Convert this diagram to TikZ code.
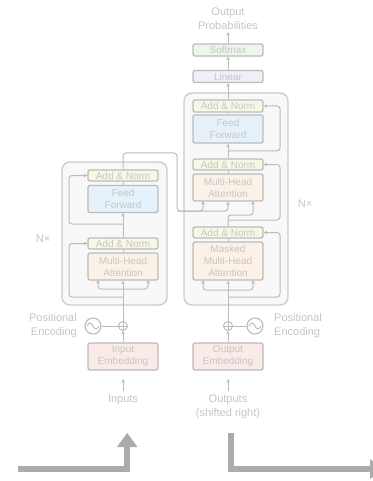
\documentclass[tikz,border=0pt]{standalone}
\usepackage{fontspec}
\setmainfont{Liberation Sans}
\usepackage{xcolor}
\usetikzlibrary{arrows.meta}
\usetikzlibrary{backgrounds}
\pgfdeclarelayer{edgelayer}
\pgfdeclarelayer{nodelayer}
\pgfsetlayers{background,edgelayer,nodelayer,main}
\definecolor{lncol}{HTML}{BBBBBB}
\definecolor{txtcol}{HTML}{C6C6C6}
\definecolor{stackln}{HTML}{CBCBCB}
\definecolor{stackfill}{HTML}{F8F8F8}
\definecolor{bigcol}{HTML}{ABABAB}
\tikzstyle{none}=[inner sep=0mm]
\tikzstyle{blk}=[draw=lncol,line width=1.3pt,rounded corners=2pt,minimum width=70pt,inner sep=0pt,text=txtcol,font=\fontsize{10}{12}\selectfont,align=center]
\tikzstyle{an}=[blk,minimum height=11pt]
\tikzstyle{ff}=[blk,minimum height=27pt]
\tikzstyle{mha}=[blk,minimum height=27pt]
\tikzstyle{emb}=[blk,minimum height=27pt]
\tikzstyle{lin}=[blk,minimum height=12pt]
\tikzstyle{sm}=[blk,minimum height=12pt]
\tikzstyle{lbl}=[inner sep=0pt,text=txtcol,font=\fontsize{11}{13.5}\selectfont,align=center]
\tikzstyle{plus}=[circle,draw=lncol,line width=0.9pt,minimum size=9pt,inner sep=0pt,fill=white,
  path picture={\draw[lncol,line width=0.7pt] (path picture bounding box.north) -- (path picture bounding box.south) (path picture bounding box.west) -- (path picture bounding box.east);}]
\tikzstyle{wave}=[circle,draw=lncol,line width=1.1pt,minimum size=16pt,inner sep=0pt,fill=white,
  path picture={\draw[lncol,line width=1pt,shift={(path picture bounding box.center)}] (-6pt,0pt) sin (-3pt,3pt) cos (0pt,0pt) sin (3pt,-3pt) cos (6pt,0pt);}]
\tikzstyle{stack}=[draw=stackln,fill=stackfill,line width=1.3pt,rounded corners=8pt]
\tikzstyle{diredge}=[draw=lncol,line width=1pt,rounded corners=3pt,-{Stealth[length=3.5pt,width=3.5pt]}]
\tikzstyle{undiredge}=[draw=lncol,line width=1pt,rounded corners=3pt]
\tikzstyle{bigarrow}=[draw=bigcol,line width=6pt,line join=miter]
\tikzset{
	an/.append style={fill={rgb,255:red,247;green,248;blue,228}},
	ff/.append style={fill={rgb,255:red,230;green,242;blue,251}},
	mha/.append style={fill={rgb,255:red,252;green,241;blue,230}},
	emb/.append style={fill={rgb,255:red,250;green,235;blue,233}},
	lin/.append style={fill={rgb,255:red,239;green,239;blue,248}},
	sm/.append style={fill={rgb,255:red,237;green,246;blue,234}}
}
\begin{document}
\begin{tikzpicture}[x=1pt,y=-1pt]
	\useasboundingbox (0,0) rectangle (372,481);
	\begin{pgfonlayer}{background}
		\fill[white] (0,0) rectangle (372,481);
		\draw[stack] (62,162) rectangle (167,305);
		\draw[stack] (184,93) rectangle (288,305);
	\end{pgfonlayer}
	\begin{pgfonlayer}{nodelayer}
		\node [style=lbl] (0) at (123,400) {Inputs};
		\node [style=emb] (1) at (123,356.5) {Input\\Embedding};
		\node [style=plus] (2) at (123,326) {};
		\node [style=wave] (3) at (93,326) {};
		\node [style=lbl, anchor=east, align=right] (4) at (77,325.5) {Positional\\Encoding};
		\node [style=mha] (5) at (123,266.5) {Multi-Head\\Attention};
		\node [style=an] (6) at (123,243.5) {Add \& Norm};
		\node [style=ff] (7) at (123,199) {Feed\\Forward};
		\node [style=an] (8) at (123,175.5) {Add \& Norm};
		\node [style=lbl] (9) at (43,239) {N×};
		\node [style=lbl] (10) at (228,407) {Outputs\\(shifted right)};
		\node [style=emb] (11) at (228,356.5) {Output\\Embedding};
		\node [style=plus] (12) at (228,326) {};
		\node [style=wave] (13) at (255,326) {};
		\node [style=lbl, anchor=west, align=left] (14) at (274,325.5) {Positional\\Encoding};
		\node [style=mha, minimum height=38pt] (15) at (228,261) {Masked\\Multi-Head\\Attention};
		\node [style=an] (16) at (228,232.5) {Add \& Norm};
		\node [style=mha] (17) at (228,187.5) {Multi-Head\\Attention};
		\node [style=an] (18) at (228,164.5) {Add \& Norm};
		\node [style=ff, minimum height=28pt] (19) at (228,129) {Feed\\Forward};
		\node [style=an, minimum height=12pt] (20) at (228,106) {Add \& Norm};
		\node [style=lin] (21) at (228,76.5) {Linear};
		\node [style=sm] (22) at (228,50) {Softmax};
		\node [style=lbl] (23) at (228,18.5) {Output\\Probabilities};
		\node [style=lbl] (24) at (305,204) {N×};
		\node [style=none] (30) at (123,391) {};
		\node [style=none] (31) at (123,379) {};
		\node [style=none] (32) at (98,289) {};
		\node [style=none] (33) at (148,289) {};
		\node [style=none] (34) at (123,289) {};
		\node [style=none] (35) at (98,280) {};
		\node [style=none] (36) at (148,280) {};
		\node [style=none] (37) at (123,297) {};
		\node [style=none] (38) at (69,297) {};
		\node [style=none] (39) at (69,243.5) {};
		\node [style=none] (40) at (123,224) {};
		\node [style=none] (41) at (69,224) {};
		\node [style=none] (42) at (69,175.5) {};
		\node [style=none] (43) at (123,153) {};
		\node [style=none] (44) at (177,153) {};
		\node [style=none] (45) at (177,211) {};
		\node [style=none] (46) at (228,211) {};
		\node [style=none] (47) at (203,211) {};
		\node [style=none] (48) at (203,201) {};
		\node [style=none] (50) at (228,290) {};
		\node [style=none] (51) at (203,290) {};
		\node [style=none] (52) at (253,290) {};
		\node [style=none] (53) at (203,280) {};
		\node [style=none] (54) at (253,280) {};
		\node [style=none] (55) at (228,297) {};
		\node [style=none] (56) at (280,297) {};
		\node [style=none] (57) at (280,232.5) {};
		\node [style=none] (58) at (228,215) {};
		\node [style=none] (59) at (253,215) {};
		\node [style=none] (60) at (253,201) {};
		\node [style=none] (61) at (228,220) {};
		\node [style=none] (62) at (280,220) {};
		\node [style=none] (63) at (280,164.5) {};
		\node [style=none] (64) at (228,151) {};
		\node [style=none] (65) at (280,151) {};
		\node [style=none] (66) at (280,106) {};
		\node [style=none] (67) at (228,32) {};
		\node [style=none] (68) at (228,391) {};
		\node [style=none] (69) at (228,379) {};
	\end{pgfonlayer}
	\begin{pgfonlayer}{edgelayer}
		\draw [style=diredge] (30.center) to (31.center);
		\draw [style=diredge] (1) to (2);
		\draw [style=undiredge] (3) to (2);
		\draw [style=diredge] (2) to (5);
		\draw [style=diredge] (34.center) -- (32.center) -- (35.center);
		\draw [style=diredge] (34.center) -- (33.center) -- (36.center);
		\draw [style=diredge] (37.center) -- (38.center) -- (39.center) -- (6);
		\draw [style=undiredge] (5) to (6);
		\draw [style=diredge] (6) to (7);
		\draw [style=diredge] (40.center) -- (41.center) -- (42.center) -- (8);
		\draw [style=undiredge] (7) to (8);
		\draw [style=diredge] (8) -- (43.center) -- (44.center) -- (45.center) -- (46.center) -- (17);
		\draw [style=diredge] (45.center) -- (47.center) -- (48.center);
		\draw [style=diredge] (68.center) to (69.center);
		\draw [style=diredge] (11) to (12);
		\draw [style=undiredge] (13) to (12);
		\draw [style=diredge] (12) to (15);
		\draw [style=diredge] (50.center) -- (51.center) -- (53.center);
		\draw [style=diredge] (50.center) -- (52.center) -- (54.center);
		\draw [style=diredge] (55.center) -- (56.center) -- (57.center) -- (16);
		\draw [style=undiredge] (15) to (16);
		\draw [style=diredge] (16) -- (58.center) -- (59.center) -- (60.center);
		\draw [style=diredge] (61.center) -- (62.center) -- (63.center) -- (18);
		\draw [style=undiredge] (17) to (18);
		\draw [style=diredge] (18) to (19);
		\draw [style=diredge] (64.center) -- (65.center) -- (66.center) -- (20);
		\draw [style=undiredge] (19) to (20);
		\draw [style=diredge] (20) to (21);
		\draw [style=diredge] (21) to (22);
		\draw [style=diredge] (22) to (67.center);
	\end{pgfonlayer}
	\draw [style=bigarrow] (18,469) -- (127,469) -- (127,446);
	\fill [bigcol] (117,447) -- (137.5,447) -- (127.2,433) -- cycle;
	\draw [style=bigarrow] (231,433) -- (231,469) -- (371,469);
	\fill [bigcol] (370,459) -- (370,479) -- (383,469) -- cycle;
\end{tikzpicture}
\end{document}
